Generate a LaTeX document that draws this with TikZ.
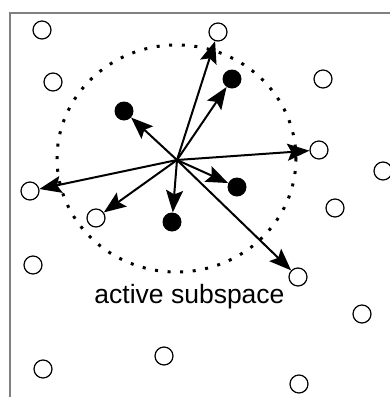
\documentclass[tikz,border=0pt]{standalone}
\usepackage{fontspec}
\setmainfont{Liberation Sans}
\usetikzlibrary{arrows.meta}
\begin{document}
\begin{tikzpicture}[x=1pt,y=-1pt,
  opendot/.style={circle,draw,line width=1.2pt,minimum size=18pt,inner sep=0pt,fill=white},
  fulldot/.style={circle,fill=black,minimum size=19pt,inner sep=0pt},
  vec/.style={line width=2pt,-{Stealth[length=22pt,width=17pt,inset=4pt]}},
  frameline/.style={draw=black!50,line width=1.5pt}]
\useasboundingbox (0,0) rectangle (390,397);
% frame
\draw[frameline] (10,397) -- (10,13) -- (391,13);
% dotted ellipse
\draw[line width=3pt,dash pattern=on 3pt off 9.6pt] (176.5,158.5) ellipse [x radius=119.5, y radius=113.5];
% open circles
\node[opendot] (o1) at (42,30) {};
\node[opendot] (o2) at (53,82) {};
\node[opendot] (o3) at (30,191) {};
\node[opendot] (o4) at (96,218) {};
\node[opendot] (o5) at (33,265) {};
\node[opendot] (o6) at (43,369) {};
\node[opendot] (o7) at (164,356) {};
\node[opendot] (o8) at (218,32) {};
\node[opendot] (o9) at (323,79) {};
\node[opendot] (o10) at (319,150) {};
\node[opendot] (o11) at (383,171) {};
\node[opendot] (o12) at (335,208) {};
\node[opendot] (o13) at (298,277) {};
\node[opendot] (o14) at (362,314) {};
\node[opendot] (o15) at (299,384) {};
% filled circles
\node[fulldot] (f1) at (124,111) {};
\node[fulldot] (f2) at (232,79) {};
\node[fulldot] (f3) at (237,187) {};
\node[fulldot] (f4) at (172,222) {};
% center
\coordinate (c) at (177,160);
\foreach \t in {f1,f2,f3,f4,o8,o10,o3,o4,o13}
  \draw[vec] (c) -- (\t);
% label
\node[anchor=base,inner sep=0pt,font=\fontsize{26.5}{30}\selectfont] (lbl) at (189.5,303) {active subspace};
\end{tikzpicture}
\end{document}
